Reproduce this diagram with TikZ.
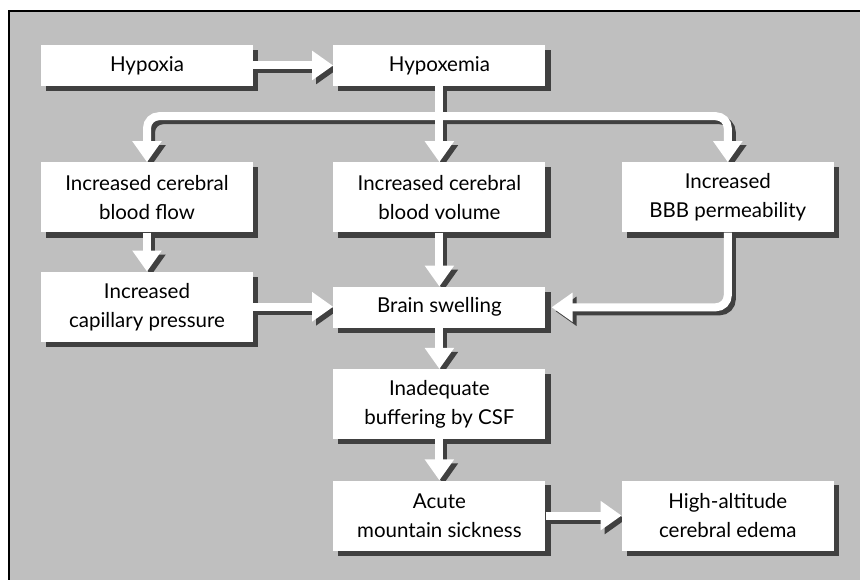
\documentclass[tikz,border=0pt]{standalone}
\usepackage{fontspec}
\setmainfont{Lato}
\usetikzlibrary{positioning,arrows.meta}
\definecolor{panelgray}{RGB}{191,191,191}
\definecolor{shadegray}{RGB}{64,64,64}
\pgfdeclarelayer{panel}
\pgfdeclarelayer{shade}
\pgfdeclarelayer{flows}
\pgfsetlayers{panel,shade,flows,main}

\begin{document}
\begin{tikzpicture}[x=1pt, y=1pt, node distance=41pt]
    \tikzstyle{factor}=[fill=white, inner sep=0pt, minimum width=212pt, minimum height=41pt, font=\fontsize{20.5}{29}\selectfont, align=center]
    \tikzstyle{tall}=[factor, minimum height=70pt]
    \tikzstyle{flow}=[draw=white, line width=8pt, rounded corners=12pt, -{Triangle[width=28pt, length=21pt]}]
    \tikzstyle{flowshade}=[flow, draw=shadegray, transform canvas={shift={(4pt,-4pt)}}]

    \useasboundingbox (0,0) rectangle (860,580);

    \node[factor] (hypoxia) at (147,514.5) {Hypoxia};
    \node[factor, right=80pt of hypoxia] (hypoxemia) {Hypoxemia};
    \node[tall, below=76pt of hypoxemia] (cbv) {Increased cerebral\\blood volume};
    \node[tall, left=80pt of cbv] (cbf) {Increased cerebral\\blood flow};
    \node[tall, right=76pt of cbv] (bbb) {Increased\\BBB permeability};
    \node[tall, below=39pt of cbf] (capillary) {Increased\\capillary pressure};
    \node[factor, below=54pt of cbv] (swelling) {Brain swelling};
    \node[tall, below=41pt of swelling] (csf) {Inadequate\\buffering by CSF};
    \node[tall, below=41pt of csf] (ams) {Acute\\mountain sickness};
    \node[tall, right=76pt of ams] (hace) {High-altitude\\cerebral edema};

    \coordinate[below=30pt of hypoxemia] (split);

    % grey panel with frame on top and left
    \begin{pgfonlayer}{panel}
        \fill[panelgray] (9,0) rectangle (860,569);
        \draw[line width=1.5pt] (9,0) -- (9,569) -- (860,569);
    \end{pgfonlayer}

    % box shadows
    \begin{pgfonlayer}{shade}
        \foreach \n in {hypoxia,hypoxemia,cbf,cbv,bbb,capillary,swelling,csf,ams,hace}
            \fill[shadegray] ([shift={(5pt,-5pt)}]\n.south west) rectangle ([shift={(5pt,-5pt)}]\n.north east);
    \end{pgfonlayer}

    % arrows: shadows first, then white
    \begin{pgfonlayer}{flows}
        \foreach \s in {flowshade,flow} {
            \draw[\s] (hypoxia) -- (hypoxemia);
            \draw[\s] (split) -| (cbf);
            \draw[\s] (split) -| (bbb);
            \draw[\s] (hypoxemia) -- (cbv);
            \draw[\s] (cbf) -- (capillary);
            \draw[\s] (cbv) -- (swelling);
            \draw[\s] (bbb) |- ([xshift=6pt]swelling.east);
            \draw[\s] (capillary.east) -- (capillary.east -| swelling.west);
            \draw[\s] (swelling) -- (csf);
            \draw[\s] (csf) -- (ams);
            \draw[\s] (ams) -- (hace);
        }
    \end{pgfonlayer}
\end{tikzpicture}
\end{document}
